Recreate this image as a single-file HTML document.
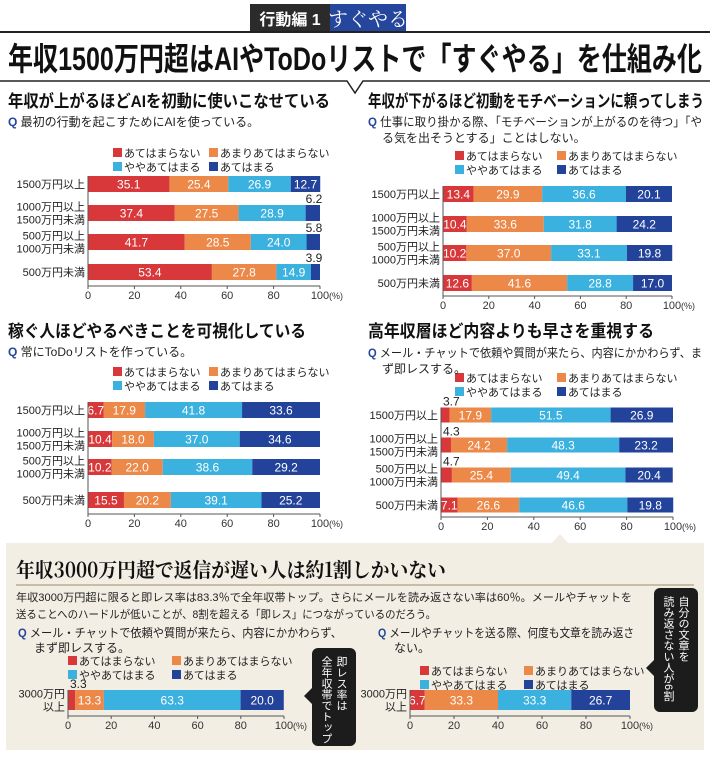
<!DOCTYPE html>
<html><head><meta charset="utf-8">
<style>
html,body{margin:0;padding:0;background:#fff;}
svg{display:block;font-family:"Liberation Sans","Noto Sans CJK JP",sans-serif;}
</style></head>
<body>
<svg id="page" width="710" height="760" viewBox="0 0 710 760" xmlns="http://www.w3.org/2000/svg">
  <rect x="250" y="4" width="80" height="28" fill="#2b2b2b"/>
  <rect x="330" y="4" width="76" height="28" fill="#24469c"/>
  <text x="290" y="25" font-size="16" font-weight="bold" fill="#fff" text-anchor="middle">行動編 1</text>
  <text x="368" y="26" font-size="20" fill="#fff" text-anchor="middle" font-family="Noto Serif CJK SC, serif">すぐやる</text>
  <line x1="0" y1="32" x2="710" y2="32" stroke="#222" stroke-width="2"/>
  <text x="8" y="70" font-size="32" font-weight="bold" fill="#111" textLength="694" lengthAdjust="spacingAndGlyphs">年収1500万円超はAIやToDoリストで「すぐやる」を仕組み化</text>
  <polyline points="0,81 347,81 355,93 363,81 710,81" fill="none" stroke="#222" stroke-width="1.5"/>

  <rect x="6" y="543" width="698" height="207" fill="#f2eee4"/>
  <polygon points="552,543 560,534 568,543" fill="#f2eee4"/>

  <g id="charts"></g>

  <text x="8" y="107" font-size="17" font-weight="bold" fill="#111" textLength="322" lengthAdjust="spacingAndGlyphs">年収が上がるほどAIを初動に使いこなせている</text>
  <text x="8" y="126" font-size="12" fill="#222"><tspan fill="#24469c" font-weight="bold">Q</tspan> 最初の行動を起こすためにAIを使っている。</text>

  <text x="368" y="107" font-size="17" font-weight="bold" fill="#111" textLength="336" lengthAdjust="spacingAndGlyphs">年収が下がるほど初動をモチベーションに頼ってしまう</text>
  <text x="368" y="126" font-size="12" fill="#222" textLength="334" lengthAdjust="spacingAndGlyphs"><tspan fill="#24469c" font-weight="bold">Q</tspan> 仕事に取り掛かる際、「モチベーションが上がるのを待つ」「や</text>
  <text x="382" y="142" font-size="12" fill="#222">る気を出そうとする」ことはしない。</text>

  <text x="8" y="337" font-size="17" font-weight="bold" fill="#111" textLength="298" lengthAdjust="spacingAndGlyphs">稼ぐ人ほどやるべきことを可視化している</text>
  <text x="8" y="356" font-size="12" fill="#222"><tspan fill="#24469c" font-weight="bold">Q</tspan> 常にToDoリストを作っている。</text>

  <text x="368" y="337" font-size="17" font-weight="bold" fill="#111" textLength="286" lengthAdjust="spacingAndGlyphs">高年収層ほど内容よりも早さを重視する</text>
  <text x="368" y="357" font-size="12" fill="#222" textLength="334" lengthAdjust="spacingAndGlyphs"><tspan fill="#24469c" font-weight="bold">Q</tspan> メール・チャットで依頼や質問が来たら、内容にかかわらず、ま</text>
  <text x="382" y="373" font-size="12" fill="#222">ず即レスする。</text>

  <text x="16" y="577" font-size="20" font-weight="bold" fill="#111" font-family="Noto Serif CJK SC, serif" textLength="430" lengthAdjust="spacingAndGlyphs">年収3000万円超で返信が遅い人は約1割しかいない</text>
  <line x1="16" y1="585" x2="694" y2="585" stroke="#9a8a6a" stroke-width="1"/>
  <text x="16" y="601" font-size="11" fill="#222" textLength="616" lengthAdjust="spacingAndGlyphs">年収3000万円超に限ると即レス率は83.3％で全年収帯トップ。さらにメールを読み返さない率は60％。メールやチャットを</text>
  <text x="16" y="618" font-size="11" fill="#222" textLength="420" lengthAdjust="spacingAndGlyphs">送ることへのハードルが低いことが、8割を超える「即レス」につながっているのだろう。</text>
  <text x="18" y="637" font-size="12" fill="#222" textLength="324" lengthAdjust="spacingAndGlyphs"><tspan fill="#24469c" font-weight="bold">Q</tspan> メール・チャットで依頼や質問が来たら、内容にかかわらず、</text>
  <text x="34" y="652" font-size="12" fill="#222">まず即レスする。</text>
  <text x="378" y="637" font-size="12" fill="#222" textLength="256" lengthAdjust="spacingAndGlyphs"><tspan fill="#24469c" font-weight="bold">Q</tspan> メールやチャットを送る際、何度も文章を読み返さ</text>
  <text x="394" y="652" font-size="12" fill="#222">ない。</text>

  <rect x="312" y="648" width="44" height="98" rx="6" fill="#1c1c1c"/>
  <polygon points="312,688 304,696 312,704" fill="#1c1c1c"/>
  <text x="341" y="656" font-size="11" fill="#fff" writing-mode="tb">即レス率は</text>
  <text x="326" y="656" font-size="11" fill="#fff" writing-mode="tb">全年収帯でトップ</text>
  <rect x="654" y="588" width="44" height="124" rx="6" fill="#1c1c1c"/>
  <polygon points="654,660 646,668 654,676" fill="#1c1c1c"/>
  <text x="683" y="596" font-size="11" fill="#fff" writing-mode="tb">自分の文章を</text>
  <text x="668" y="596" font-size="11" fill="#fff" writing-mode="tb">読み返さない人が6割</text>
</svg>

<script>
const colors = ["#d8383a","#ec8848","#3ab1df","#23439b"];
const legendLabels = ["あてはまらない","あまりあてはまらない","ややあてはまる","あてはまる"];
const catsIncome = [["1500万円以上"],["1000万円以上","1500万円未満"],["500万円以上","1000万円未満"],["500万円未満"]];
const cats3000 = [["3000万円","以上"]];
const ticks = [0,20,40,60,80,100];

const chart1Values = [[35.1,25.4,26.9,12.7],[37.4,27.5,28.9,6.2],[41.7,28.5,24.0,5.8],[53.4,27.8,14.9,3.9]];
const chart2Values = [[13.4,29.9,36.6,20.1],[10.4,33.6,31.8,24.2],[10.2,37.0,33.1,19.8],[12.6,41.6,28.8,17.0]];
const chart3Values = [[6.7,17.9,41.8,33.6],[10.4,18.0,37.0,34.6],[10.2,22.0,38.6,29.2],[15.5,20.2,39.1,25.2]];
const chart4Values = [[3.7,17.9,51.5,26.9],[4.3,24.2,48.3,23.2],[4.7,25.4,49.4,20.4],[7.1,26.6,46.6,19.8]];
const chart5Values = [[3.3,13.3,63.3,20.0]];
const chart6Values = [[6.7,33.3,33.3,26.7]];

const NS = "http://www.w3.org/2000/svg";
const root = document.getElementById("charts");
function mk(tag, attrs, parent){
  const e = document.createElementNS(NS, tag);
  for (const k in attrs) e.setAttribute(k, attrs[k]);
  (parent||root).appendChild(e);
  return e;
}

function drawChart(id, cfg, values, cats){
  const g = mk("g", {});
  
  
  const xs = v => cfg.x0 + (cfg.x1 - cfg.x0) * v / 100;
  legendLabels.forEach((lab, i) => {
    const lx = cfg.lx + (i % 2) * cfg.lgap, ly = cfg.ly + Math.floor(i / 2) * 14;
    const sw = mk("rect", {x: lx, y: ly - 9, width: 9, height: 9, fill: colors[i]}, g);
    
    
    const t = mk("text", {x: lx + 11, y: ly, "font-size": 11, fill: "#222"}, g);
    
    
    t.textContent = lab;
  });
  values.forEach((row, r) => {
    const cy = cfg.rows[r];
    let acc = 0;
    row.forEach((v, i) => {
      const xa = xs(acc), xb = xs(acc + v);
      const rect = mk("rect", {x: xa, y: cy - cfg.bh / 2, width: Math.max(0, xb - xa), height: cfg.bh, fill: colors[i]}, g);
      
      
      const lbl = mk("text", {"font-size": 12, fill: "#fff", "text-anchor": "middle"}, g);
      
      
      lbl.textContent = v.toFixed(1);
      if (v >= 6.5) {
        lbl.setAttribute("x", (xa + xb) / 2);
        lbl.setAttribute("y", cy + 4.5);
      } else {
        lbl.setAttribute("fill", "#222");
        lbl.setAttribute("y", cy - cfg.bh / 2 - 2);
        if (i === row.length - 1) { lbl.setAttribute("x", xb - 6); }
        else { lbl.setAttribute("x", xa + 2); lbl.setAttribute("text-anchor", "start"); }
      }
      acc += v;
    });
    const lines = cats[r];
    lines.forEach((ln, k) => {
      const t = mk("text", {x: cfg.x0 - 3, y: cy + 4 + (k - (lines.length - 1) / 2) * 13, "font-size": 11, fill: "#222", "text-anchor": "end"}, g);
      
      
      t.textContent = ln;
    });
  });
  const ay = cfg.axisY;
  mk("line", {x1: cfg.x0, y1: ay, x2: cfg.x1, y2: ay, stroke: "#555", "stroke-width": 1}, g);
  mk("line", {x1: cfg.x0, y1: cfg.rows[0] - cfg.bh / 2, x2: cfg.x0, y2: ay, stroke: "#555", "stroke-width": 1}, g);
  ticks.forEach(tv => {
    mk("line", {x1: xs(tv), y1: ay, x2: xs(tv), y2: ay + 3, stroke: "#555"}, g);
    const t = mk("text", {x: xs(tv), y: ay + 13, "font-size": 11, fill: "#333", "text-anchor": "middle"}, g);
    
    
    t.textContent = tv;
  });
  const pc = mk("text", {x: cfg.x1 + 9, y: ay + 13, "font-size": 9, fill: "#333"}, g);
  
  
  pc.textContent = "(%)";
}

drawChart("chart-ai-usage", {x0: 88, x1: 320, rows: [184, 213, 242, 272], bh: 16, axisY: 286, lx: 113, ly: 157, lgap: 96}, chart1Values, catsIncome);
drawChart("chart-motivation", {x0: 443, x1: 672, rows: [194, 224, 253, 283], bh: 16, axisY: 296, lx: 455, ly: 160, lgap: 102}, chart2Values, catsIncome);
drawChart("chart-todo", {x0: 88, x1: 320, rows: [410, 439, 467, 500], bh: 16, axisY: 514, lx: 113, ly: 376, lgap: 96}, chart3Values, catsIncome);
drawChart("chart-quick-reply", {x0: 441, x1: 673, rows: [415, 445, 475, 505], bh: 15, axisY: 517, lx: 455, ly: 382, lgap: 102}, chart4Values, catsIncome);
drawChart("chart-reply-3000", {x0: 68, x1: 284, rows: [700], bh: 20, axisY: 716, lx: 68, ly: 665, lgap: 104}, chart5Values, cats3000);
drawChart("chart-reread-3000", {x0: 410, x1: 630, rows: [700], bh: 20, axisY: 716, lx: 420, ly: 675, lgap: 104}, chart6Values, cats3000);
</script>
</body></html>
